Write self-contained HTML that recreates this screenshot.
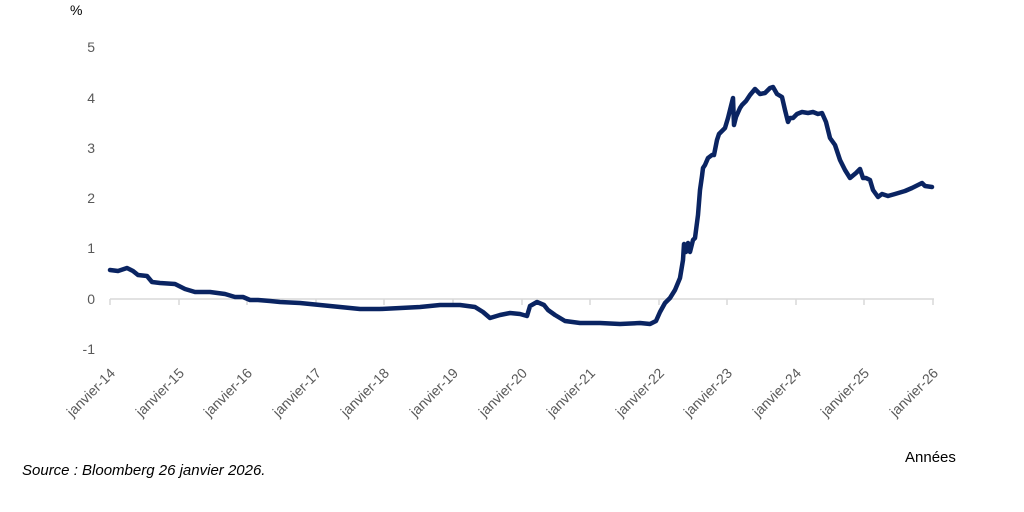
<!DOCTYPE html>
<html><head><meta charset="utf-8"><style>
body{margin:0;background:#fff;width:1024px;height:507px;overflow:hidden}
svg{font-family:"Liberation Sans",sans-serif}
</style></head><body>
<svg width="1024" height="507" viewBox="0 0 1024 507">
<g fill="#595959" font-size="14" text-anchor="end">
<text x="95" y="52">5</text><text x="95" y="103">4</text><text x="95" y="153">3</text>
<text x="95" y="203">2</text><text x="95" y="253">1</text><text x="95" y="304">0</text><text x="95" y="354">-1</text>
</g>
<text x="70" y="15" font-size="14" fill="#000">%</text>
<line x1="110" y1="299" x2="934" y2="299" stroke="#d9d9d9" stroke-width="1.5"/>
<g stroke="#d9d9d9" stroke-width="1.5">
<line x1="110" y1="299" x2="110" y2="305"/><line x1="179" y1="299" x2="179" y2="305"/><line x1="247" y1="299" x2="247" y2="305"/>
<line x1="316" y1="299" x2="316" y2="305"/><line x1="384" y1="299" x2="384" y2="305"/><line x1="453" y1="299" x2="453" y2="305"/>
<line x1="522" y1="299" x2="522" y2="305"/><line x1="590" y1="299" x2="590" y2="305"/><line x1="659" y1="299" x2="659" y2="305"/>
<line x1="727" y1="299" x2="727" y2="305"/><line x1="796" y1="299" x2="796" y2="305"/><line x1="864" y1="299" x2="864" y2="305"/><line x1="933" y1="299" x2="933" y2="305"/>
</g>
<g fill="#595959" font-size="14" text-anchor="end">
<text transform="translate(116,374) rotate(-45)">janvier-14</text>
<text transform="translate(185,374) rotate(-45)">janvier-15</text>
<text transform="translate(253,374) rotate(-45)">janvier-16</text>
<text transform="translate(322,374) rotate(-45)">janvier-17</text>
<text transform="translate(390,374) rotate(-45)">janvier-18</text>
<text transform="translate(459,374) rotate(-45)">janvier-19</text>
<text transform="translate(528,374) rotate(-45)">janvier-20</text>
<text transform="translate(596,374) rotate(-45)">janvier-21</text>
<text transform="translate(665,374) rotate(-45)">janvier-22</text>
<text transform="translate(733,374) rotate(-45)">janvier-23</text>
<text transform="translate(802,374) rotate(-45)">janvier-24</text>
<text transform="translate(870,374) rotate(-45)">janvier-25</text>
<text transform="translate(939,374) rotate(-45)">janvier-26</text>
</g>
<polyline fill="none" stroke="#0a2462" stroke-width="4.5" stroke-linejoin="round" stroke-linecap="round" points="
110,270 118,271 127,268 133,271 138,275 147,276 152,282 160,283 175,284 185,289 195,292 210,292 225,294 235,297 243,297 250,300 258,300 270,301 280,302 300,303 330,306 360,309 380,309 420,307 440,305 460,305 475,307 483,312 490,318 500,315 510,313 520,314 527,316 530,306 537,302 544,305 548,310 555,315 565,321 580,323 600,323 620,324 640,323 650,324 656,321 660,312 665,303 670,298 675,290 680,278 683,260 684,244 686,252 688,243 690,252 693,240 695,238 698,215 700,190 702,176 703,168 705,165 708,158 712,155 714,155 717,140 719,134 722,131 725,128 728,118 733,98 734,125 736,117 740,108 742,105 746,101 750,95 755,89 760,94 765,93 770,88 773,87 777,94 782,97 785,110 788,122 790,118 793,118 797,114 802,112 808,113 813,112 818,114 822,113 826,122 830,138 835,145 840,160 845,170 850,178 856,173 860,169 863,178 866,178 870,180 873,190 878,197 882,194 888,196 895,194 905,191 912,188 918,185 922,183 925,186 932,187"/>
<text x="905" y="462" font-size="15" fill="#000">Années</text>
<text x="22" y="475" font-size="15" font-style="italic" fill="#000">Source : Bloomberg 26 janvier 2026.</text>
</svg>
</body></html>
